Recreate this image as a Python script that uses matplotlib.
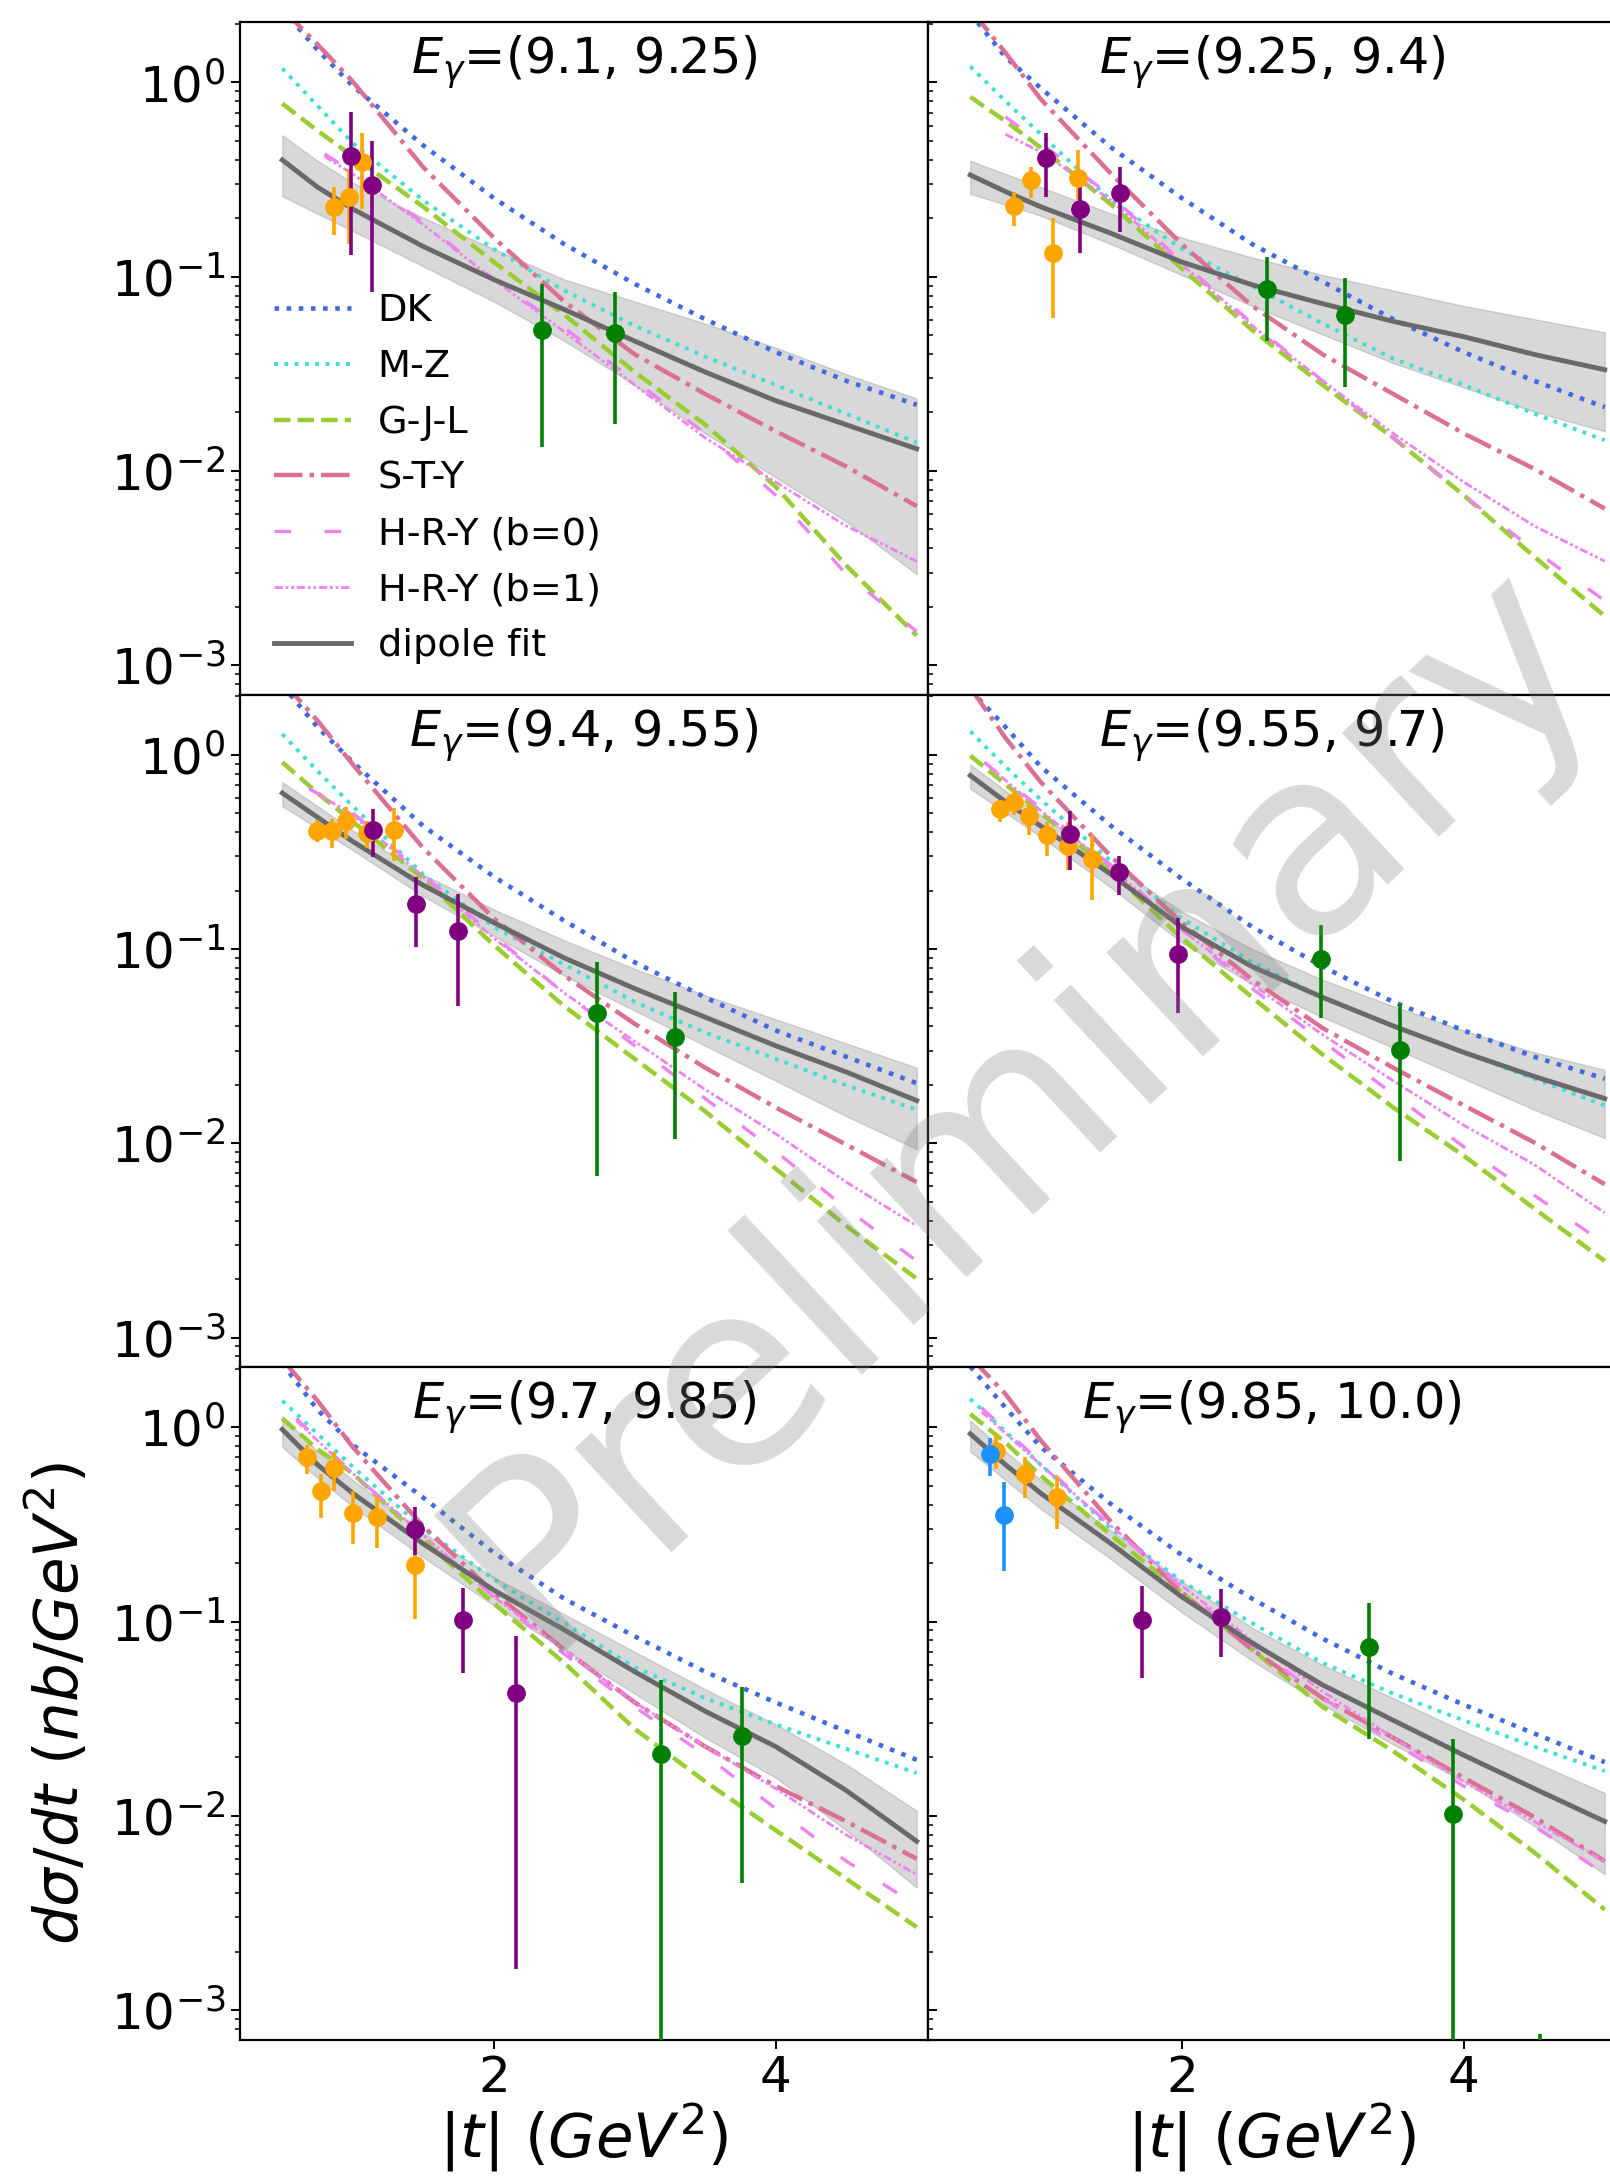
import numpy as np
import matplotlib
matplotlib.use("Agg")
import matplotlib.pyplot as plt

T = [0.5, 0.75, 1.0, 1.5, 2.0, 2.5, 3.0, 3.5, 4.0, 4.5, 5.0]
# H-R-Y curves start later: first point at HRY_T0, then these
T_HRY = [1.0, 1.5, 2.0, 2.5, 3.0, 3.5, 4.0, 4.5, 5.0]
HRY_T0 = [0.8, 0.75, 0.69, 0.6, 0.6, 0.58]

E_BINS = ["(9.1, 9.25)", "(9.25, 9.4)", "(9.4, 9.55)",
          "(9.55, 9.7)", "(9.7, 9.85)", "(9.85, 10.0)"]

DK = [
    [2.37, 1.47, 0.96, 0.474, 0.254, 0.147, 0.0918, 0.0604, 0.0409, 0.0291, 0.0219],
    [2.27, 1.35, 0.935, 0.462, 0.254, 0.147, 0.0942, 0.0604, 0.0409, 0.0291, 0.0213],
    [2.28, 1.39, 0.916, 0.43, 0.236, 0.140, 0.0855, 0.0564, 0.0381, 0.0279, 0.0204],
    [2.16, 1.39, 0.869, 0.43, 0.230, 0.130, 0.0812, 0.0535, 0.0381, 0.0279, 0.0215],
    [2.13, 1.23, 0.811, 0.434, 0.226, 0.131, 0.0838, 0.0551, 0.0383, 0.0272, 0.0194],
    [2.05, 1.26, 0.791, 0.401, 0.22, 0.131, 0.0816, 0.0537, 0.0373, 0.0265, 0.0189],
]
MZ = [
    [1.18, 0.759, 0.487, 0.247, 0.139, 0.0849, 0.0559, 0.0388, 0.0277, 0.0197, 0.0140],
    [1.21, 0.80, 0.541, 0.247, 0.139, 0.0894, 0.0574, 0.0378, 0.0277, 0.0197, 0.0144],
    [1.28, 0.825, 0.544, 0.242, 0.130, 0.0833, 0.0535, 0.0372, 0.0272, 0.0199, 0.0149],
    [1.32, 0.869, 0.588, 0.283, 0.144, 0.0855, 0.0564, 0.0402, 0.0294, 0.0215, 0.0157],
    [1.37, 0.925, 0.625, 0.301, 0.165, 0.098, 0.0581, 0.0403, 0.0295, 0.0221, 0.0166],
    [1.40, 0.949, 0.641, 0.301, 0.161, 0.098, 0.0612, 0.0425, 0.031, 0.0227, 0.017],
]
GJL = [
    [0.778, 0.564, 0.417, 0.229, 0.119, 0.0637, 0.0323, 0.0173, 0.0083, 0.00326, 0.00142],
    [0.842, 0.632, 0.462, 0.235, 0.110, 0.0531, 0.0277, 0.0148, 0.0075, 0.00362, 0.00179],
    [0.916, 0.636, 0.453, 0.230, 0.105, 0.0508, 0.0272, 0.0146, 0.0074, 0.00376, 0.00201],
    [0.99, 0.705, 0.503, 0.249, 0.114, 0.0564, 0.0286, 0.0153, 0.00864, 0.00462, 0.00248],
    [1.11, 0.77, 0.578, 0.264, 0.124, 0.0612, 0.028, 0.0150, 0.00842, 0.00474, 0.00267],
    [1.17, 0.833, 0.563, 0.278, 0.141, 0.0716, 0.0363, 0.0215, 0.0121, 0.00648, 0.00329],
]
STY = [
    [2.39, 1.57, 1.01, 0.366, 0.159, 0.0745, 0.0398, 0.0249, 0.0160, 0.01054, 0.00659],
    [2.39, 1.42, 0.82, 0.338, 0.147, 0.0707, 0.0398, 0.0249, 0.0156, 0.01026, 0.0064],
    [2.4, 1.50, 0.892, 0.331, 0.144, 0.0731, 0.0412, 0.0245, 0.0153, 0.00985, 0.00632],
    [2.22, 1.22, 0.724, 0.299, 0.137, 0.0695, 0.0392, 0.0245, 0.0157, 0.0101, 0.00616],
    [2.24, 1.37, 0.791, 0.309, 0.141, 0.0716, 0.0383, 0.0227, 0.0142, 0.00935, 0.0060],
    [2.3, 1.48, 0.855, 0.325, 0.141, 0.0716, 0.0403, 0.0252, 0.0157, 0.00985, 0.00584],
]
HRY0 = [
    [0.428, 0.347, 0.190, 0.0967, 0.0545, 0.0291, 0.0156, 0.0075, 0.00294, 0.00149],
    [0.665, 0.487, 0.260, 0.119, 0.0574, 0.0291, 0.0148, 0.0075, 0.0039, 0.00215],
    [0.67, 0.503, 0.242, 0.117, 0.0594, 0.0318, 0.0170, 0.0091, 0.00462, 0.00248],
    [0.916, 0.53, 0.269, 0.126, 0.0626, 0.0335, 0.0179, 0.0096, 0.0054, 0.00305],
    [1.11, 0.578, 0.278, 0.134, 0.068, 0.0363, 0.0205, 0.0109, 0.00584, 0.00347],
    [1.26, 0.659, 0.309, 0.149, 0.0755, 0.0403, 0.0239, 0.0142, 0.00887, 0.00499],
]
HRY1 = [
    [0.416, 0.338, 0.185, 0.0967, 0.052, 0.0277, 0.0148, 0.00877, 0.00521, 0.00343],
    [0.541, 0.439, 0.247, 0.116, 0.0559, 0.0291, 0.0156, 0.00877, 0.00521, 0.00343],
    [0.67, 0.49, 0.236, 0.114, 0.0594, 0.0335, 0.0189, 0.0112, 0.00632, 0.00376],
    [0.916, 0.516, 0.262, 0.126, 0.0659, 0.0362, 0.0210, 0.0124, 0.00778, 0.00439],
    [1.08, 0.578, 0.278, 0.134, 0.0716, 0.0383, 0.0227, 0.0138, 0.00798, 0.00499],
    [1.2, 0.641, 0.309, 0.153, 0.0795, 0.0436, 0.0252, 0.015, 0.00935, 0.00584],
]
DIPOLE = [
    [0.399, 0.289, 0.223, 0.143, 0.0967, 0.0678, 0.0466, 0.0323, 0.0230, 0.0173, 0.0130],
    [0.334, 0.274, 0.229, 0.167, 0.119, 0.0908, 0.0726, 0.0589, 0.0491, 0.0398, 0.0332],
    [0.636, 0.477, 0.358, 0.213, 0.137, 0.0901, 0.0626, 0.0446, 0.0318, 0.0233, 0.0166],
    [0.783, 0.573, 0.43, 0.242, 0.130, 0.0812, 0.0564, 0.0402, 0.0294, 0.0221, 0.0170],
    [0.974, 0.641, 0.457, 0.251, 0.145, 0.0906, 0.0551, 0.0345, 0.0227, 0.0135, 0.00739],
    [0.925, 0.641, 0.457, 0.251, 0.134, 0.0774, 0.0471, 0.031, 0.0205, 0.0138, 0.00935],
]
DIPOLE_HI = [
    [0.535, 0.395, 0.305, 0.201, 0.139, 0.0967, 0.0745, 0.0574, 0.0431, 0.0315, 0.0236],
    [0.395, 0.338, 0.289, 0.211, 0.159, 0.1255, 0.102, 0.0849, 0.0707, 0.0604, 0.0517],
    [0.724, 0.544, 0.408, 0.242, 0.160, 0.111, 0.0791, 0.0578, 0.0435, 0.0327, 0.0245],
    [0.892, 0.652, 0.49, 0.276, 0.156, 0.1, 0.0695, 0.0508, 0.0381, 0.0294, 0.0239],
    [1.14, 0.75, 0.535, 0.286, 0.169, 0.109, 0.0698, 0.0448, 0.0295, 0.0184, 0.0106],
    [1.08, 0.75, 0.535, 0.293, 0.161, 0.0929, 0.0597, 0.0403, 0.0272, 0.0189, 0.0131],
]
DIPOLE_LO = [
    [0.260, 0.211, 0.172, 0.113, 0.0745, 0.0468, 0.0277, 0.0156, 0.00925, 0.00549, 0.00294],
    [0.267, 0.235, 0.206, 0.147, 0.102, 0.0707, 0.0504, 0.0359, 0.0269, 0.0202, 0.0160],
    [0.544, 0.419, 0.323, 0.187, 0.117, 0.0731, 0.0482, 0.0318, 0.0210, 0.0138, 0.00935],
    [0.67, 0.503, 0.378, 0.207, 0.108, 0.0659, 0.0446, 0.031, 0.0215, 0.0149, 0.01064],
    [0.791, 0.548, 0.391, 0.214, 0.121, 0.0716, 0.0425, 0.0252, 0.0157, 0.00842, 0.00427],
    [0.75, 0.535, 0.38, 0.209, 0.1116, 0.0628, 0.0373, 0.0233, 0.015, 0.00887, 0.00499],
]

# measured points: |t|, value, lower end of bar, upper end of bar
ORANGE_T = [[0.864, 0.974, 1.067], [0.8125, 0.934, 1.0875, 1.2625],
            [0.749, 0.855, 0.952, 1.099, 1.295],
            [0.709, 0.809, 0.919, 1.044, 1.19, 1.363],
            [0.674, 0.771, 0.870, 0.998, 1.173, 1.441], [0.684, 0.8875, 1.1125]]
ORANGE_V = [[0.229, 0.258, 0.389], [0.232, 0.313, 0.132, 0.324],
            [0.404, 0.404, 0.458, 0.398, 0.408],
            [0.524, 0.573, 0.482, 0.388, 0.340, 0.29],
            [0.705, 0.469, 0.615, 0.361, 0.346, 0.195], [0.758, 0.572, 0.438]]
ORANGE_LO = [[0.163, 0.147, 0.223], [0.183, 0.254, 0.061, 0.247],
             [0.355, 0.331, 0.368, 0.331, 0.284],
             [0.453, 0.49, 0.387, 0.302, 0.255, 0.179],
             [0.572, 0.343, 0.469, 0.251, 0.238, 0.103], [0.609, 0.434, 0.301]]
ORANGE_HI = [[0.289, 0.36, 0.546], [0.274, 0.366, 0.20, 0.45],
             [0.46, 0.465, 0.536, 0.454, 0.53],
             [0.588, 0.659, 0.57, 0.453, 0.453, 0.387],
             [0.812, 0.572, 0.75, 0.469, 0.445, 0.244], [0.925, 0.705, 0.563]]

PURPLE_T = [[0.989, 1.139], [1.0375, 1.28, 1.559], [1.146, 1.448, 1.745],
            [1.21, 1.553, 1.972], [1.441, 1.785, 2.156], [1.716, 2.275]]
PURPLE_V = [[0.416, 0.297], [0.406, 0.223, 0.270], [0.412, 0.171, 0.1245],
            [0.392, 0.249, 0.0949], [0.301, 0.1016, 0.0431], [0.102, 0.106]]
PURPLE_LO = [[0.129, 0.0834], [0.258, 0.132, 0.170], [0.298, 0.1025, 0.0512],
             [0.255, 0.189, 0.047], [0.22, 0.054, 0.00163], [0.0511, 0.0655]]
PURPLE_HI = [[0.701, 0.50], [0.546, 0.289, 0.366], [0.525, 0.236, 0.192],
             [0.517, 0.301, 0.144], [0.389, 0.149, 0.0846], [0.153, 0.147]]

GREEN_T = [[2.342, 2.857], [2.606, 3.159], [2.729, 3.285],
           [2.99, 3.55], [3.186, 3.763], [3.331, 3.925, 4.54]]
GREEN_V = [[0.0533, 0.0512], [0.0862, 0.0637], [0.047, 0.0353],
           [0.0892, 0.0302], [0.0208, 0.0256], [0.0735, 0.01026, 0.0003]]
GREEN_LO = [[0.01333, 0.0175], [0.0465, 0.027], [0.0068, 0.0105],
            [0.044, 0.0081], [0.0001, 0.0045], [0.0249, 0.0001, 0.0001]]
GREEN_HI = [[0.0918, 0.0834], [0.1256, 0.099], [0.0855, 0.0601],
            [0.133, 0.0522], [0.0497, 0.0459], [0.124, 0.0249, 0.00075]]

BLUE_T = [[], [], [], [], [], [0.6375, 0.741]]
BLUE_V = [[], [], [], [], [], [0.731, 0.352]]
BLUE_LO = [[], [], [], [], [], [0.563, 0.183]]
BLUE_HI = [[], [], [], [], [], [0.877, 0.521]]


def points(ax, t, v, lo, hi, color):
    if len(t) == 0:
        return
    v = np.array(v)
    yerr = [v - np.array(lo), np.array(hi) - v]
    ax.errorbar(t, v, yerr=yerr, fmt="o", color=color, ms=12.5,
                elinewidth=2.6, capsize=0, zorder=5)


fig = plt.figure(figsize=(16.1, 21.81), dpi=100)

W = 688 / 1610
H = 672.4 / 2181
LEFTS = [240 / 1610, 928 / 1610]
BOTTOMS = [1 - 694.7 / 2181, 1 - 1367.1 / 2181, 1 - 2039.5 / 2181]

axes = []
for i in range(6):
    r, c = divmod(i, 2)
    ax = fig.add_axes([LEFTS[c], BOTTOMS[r], W, H])
    axes.append(ax)

for i, ax in enumerate(axes):
    tt = T
    th = [HRY_T0[i]] + T_HRY
    ax.fill_between(tt, DIPOLE_LO[i], DIPOLE_HI[i], color="gray", alpha=0.3, zorder=1)
    ax.plot(tt, DK[i], ":", color="royalblue", lw=3.3, label="DK")
    ax.plot(tt, MZ[i], ":", color="turquoise", lw=2.8, label="M-Z")
    ax.plot(tt, GJL[i], "--", color="yellowgreen", lw=3.2, label="G-J-L")
    ax.plot(tt, STY[i], "-.", color="palevioletred", lw=3.2, label="S-T-Y")
    ax.plot(th, HRY0[i], color="violet", lw=2.4, ls=(0, (5, 10)), label="H-R-Y (b=0)")
    ax.plot(th, HRY1[i], color="violet", lw=2.0, ls=(0, (3, 1, 1, 1, 1, 1)),
            label="H-R-Y (b=1)")
    ax.plot(tt, DIPOLE[i], "-", color="dimgray", lw=3.5, label="dipole fit", zorder=3)

    points(ax, ORANGE_T[i], ORANGE_V[i], ORANGE_LO[i], ORANGE_HI[i], "orange")
    points(ax, PURPLE_T[i], PURPLE_V[i], PURPLE_LO[i], PURPLE_HI[i], "purple")
    points(ax, GREEN_T[i], GREEN_V[i], GREEN_LO[i], GREEN_HI[i], "green")
    points(ax, BLUE_T[i], BLUE_V[i], BLUE_LO[i], BLUE_HI[i], "dodgerblue")

    ax.set_yscale("log")
    ax.set_xlim(0.2, 5.08)
    ax.set_ylim(7.05e-4, 2.04)
    ax.set_xticks([2, 4])
    ax.text(0.5, 0.94, r"$E_{\gamma}$=" + E_BINS[i], transform=ax.transAxes,
            ha="center", va="center", fontsize=35.5)

    for sp in ax.spines.values():
        sp.set_linewidth(1.6)
    ax.tick_params(which="major", length=6.5, width=1.4, labelsize=36, pad=4)
    ax.tick_params(which="minor", length=3.7, width=1.1)
    if i % 2 == 1:
        ax.tick_params(axis="y", which="both", direction="in", labelleft=False)
    if i < 4:
        ax.tick_params(axis="x", labelbottom=False)
    else:
        ax.set_xlabel(r"$|t|\ (GeV^2)$", fontsize=44)
        ax.xaxis.set_label_coords(0.5, -0.092)

axes[4].set_ylabel(r"$d\sigma/dt\ (nb/GeV^2)$", fontsize=44)
axes[4].yaxis.set_label_coords(-0.215, 0.5)

axes[0].legend(loc="lower left", frameon=False, fontsize=27.5,
               handlelength=2.0, handletextpad=0.7, labelspacing=0.52,
               bbox_to_anchor=(0.0, -0.006))

fig.text(0.635, 0.494, "Preliminary", fontsize=186, rotation=43, color="gray",
         alpha=0.3, ha="center", va="center", zorder=10)

fig.savefig("out.png", dpi=100)
